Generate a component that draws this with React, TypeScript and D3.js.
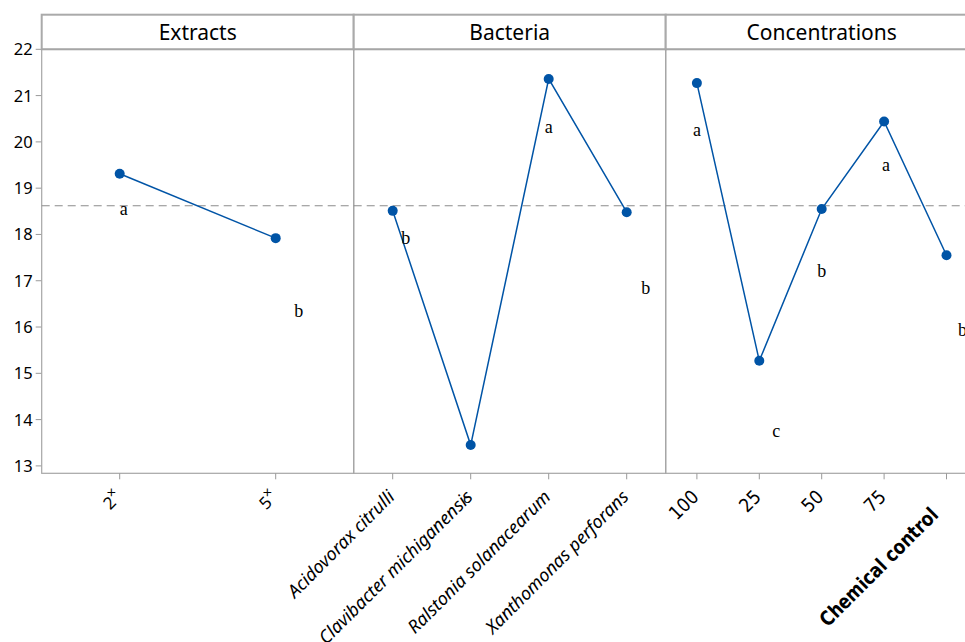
import { useRef, useEffect } from "react";
import * as d3 from "d3";

// means
const extracts = ["2×", "5×"];
const extractMeans = [19.31, 17.92];
const extractLetters = ["a", "b"];
const extractLetterAt = [18.42, 16.21];

const bacteria = ["Acidovorax citrulli", "Clavibacter michiganensis", "Ralstonia solanacearum", "Xanthomonas perforans"];
const bacteriaMeans = [18.51, 13.45, 21.36, 18.48];
const bacteriaLetters = ["b", "c", "a", "b"];
const bacteriaLetterAt = [17.79, 12.2, 20.19, 16.71];

const concentrations = ["100", "25", "50", "75", "Chemical control"];
const concentrationMeans = [21.27, 15.27, 18.55, 20.44, 17.55];
const concentrationLetters = ["a", "c", "b", "a", "b"];
const concentrationLetterAt = [20.13, 13.62, 17.08, 19.37, 15.8];

const grandMean = 18.62;
const yTicks = [13, 14, 15, 16, 17, 18, 19, 20, 21, 22];

const panels = [
  { title: "Extracts", cats: extracts, means: extractMeans, letters: extractLetters, letterAt: extractLetterAt, dx: [4, 23] },
  { title: "Bacteria", cats: bacteria, means: bacteriaMeans, letters: bacteriaLetters, letterAt: bacteriaLetterAt, dx: [13, -4, 0, 19] },
  { title: "Concentrations", cats: concentrations, means: concentrationMeans, letters: concentrationLetters, letterAt: concentrationLetterAt, dx: [0, 17, 0, 2, 16] },
];

const BLUE = "#0054A6";
const SANS = "'Noto Sans', 'Open Sans', sans-serif";
const COND = "'DejaVu Sans Condensed', 'Liberation Sans Narrow', sans-serif";

function App() {
  const ref = useRef(null);

  useEffect(() => {
    const svg = d3.select(ref.current);
    svg.selectAll("*").remove();

    const left = 41.7;
    const panelW = 312;
    const top = 49.3;
    const bottom = 473.3;
    const stripTop = 14.7;

    const y = d3.scaleLinear().domain([12.84, 22]).range([bottom, top]);

    // y axis
    const ya = svg.append("g");
    yTicks.forEach((t) => {
      ya.append("line")
        .attr("x1", left - 6).attr("x2", left)
        .attr("y1", y(t)).attr("y2", y(t))
        .attr("stroke", "#999").attr("stroke-width", 1);
      ya.append("text")
        .attr("x", left - 9).attr("y", y(t))
        .attr("dy", "0.36em")
        .attr("text-anchor", "end")
        .style("font-family", SANS)
        .style("font-size", "16.5px")
        .text(t);
    });

    panels.forEach((p, pi) => {
      const x0 = left + pi * panelW;
      const x = d3.scalePoint().domain(p.cats).range([x0, x0 + panelW]).padding(0.5);
      const g = svg.append("g");

      // strip
      g.append("rect")
        .attr("x", x0).attr("y", stripTop)
        .attr("width", panelW).attr("height", top - stripTop)
        .attr("fill", "white").attr("stroke", "#aaa").attr("stroke-width", 2);
      g.append("text")
        .attr("x", x0 + panelW / 2).attr("y", 40)
        .attr("text-anchor", "middle")
        .style("font-family", SANS)
        .style("font-size", "21px")
        .text(p.title);

      // panel frame
      g.append("rect")
        .attr("x", x0).attr("y", top)
        .attr("width", panelW).attr("height", bottom - top)
        .attr("fill", "none").attr("stroke", "#a6a6a6").attr("stroke-width", 1.2);

      // reference line
      g.append("line")
        .attr("x1", x0).attr("x2", x0 + panelW)
        .attr("y1", y(grandMean)).attr("y2", y(grandMean))
        .attr("stroke", "#8c8c8c").attr("stroke-width", 1.2)
        .attr("stroke-dasharray", "8,5");

      // x ticks
      p.cats.forEach((c) => {
        g.append("line")
          .attr("x1", x(c)).attr("x2", x(c))
          .attr("y1", bottom).attr("y2", bottom + 6)
          .attr("stroke", "#999");
      });

      const line = d3.line().x((d) => x(d[0])).y((d) => y(d[1]));
      const pts = p.cats.map((c, i) => [c, p.means[i]]);
      g.append("path")
        .attr("d", line(pts))
        .attr("fill", "none")
        .attr("stroke", BLUE)
        .attr("stroke-width", 1.5);
      g.selectAll("circle")
        .data(pts)
        .enter().append("circle")
        .attr("cx", (d) => x(d[0]))
        .attr("cy", (d) => y(d[1]))
        .attr("r", 5)
        .attr("fill", BLUE);

      // letters
      p.cats.forEach((c, i) => {
        g.append("text")
          .attr("x", x(c) + p.dx[i])
          .attr("y", y(p.letterAt[i]))
          .attr("text-anchor", "middle")
          .style("font-family", "'Liberation Serif', 'Times New Roman', serif")
          .style("font-size", pi === 1 && i === 1 ? "15px" : "18px")
          .text(p.letters[i]);
      });

      // rotated category labels
      p.cats.forEach((c) => {
        const isChem = c === "Chemical control";
        const t = g.append("text")
          .attr("transform", `translate(${x(c) + (isChem ? -7 : 3)},${isChem ? 516 : 498}) rotate(-45)`)
          .attr("text-anchor", "end")
          .style("font-size", "17px");
        if (pi === 0) {
          t.style("font-family", SANS);
          t.append("tspan").text(c.slice(0, 1));
          t.append("tspan").attr("dy", -7).style("font-size", "14px").text(c.slice(1));
        } else if (pi === 1) {
          t.style("font-family", SANS).style("font-style", "italic").style("font-size", "18px").text(c);
        } else if (isChem) {
          t.style("font-family", COND)
            .style("font-weight", "bold")
            .style("font-stretch", "condensed")
            .style("font-size", "20px")
            .attr("textLength", 158)
            .attr("lengthAdjust", "spacingAndGlyphs")
            .text(c);
        } else {
          t.style("font-family", COND)
            .style("font-stretch", "condensed")
            .style("font-size", "19px")
            .text(c);
        }
      });
    });
  }, []);

  return (
    <svg
      ref={ref}
      width="965"
      height="642"
      style={{ position: "absolute", left: 0, top: 0, background: "white" }}
    />
  );
}

export default App;
